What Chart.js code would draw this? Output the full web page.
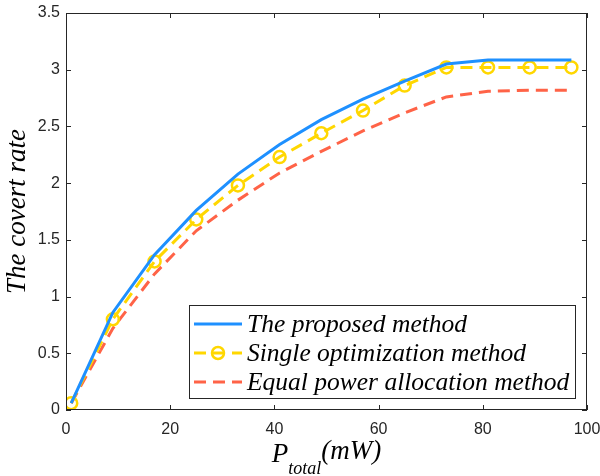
<!DOCTYPE html>
<html lang="en">
<head>
  <meta charset="UTF-8" />
  <title>Covert rate vs total power</title>
  <style>
    html, body { margin: 0; padding: 0; background: #fff; }
    #wrap { width: 600px; height: 476px; }
  </style>
  <script src="https://cdn.jsdelivr.net/npm/chart.js"></script>
</head>
<body>
<div id="wrap"><canvas id="rateChart" width="600" height="476"></canvas></div>

<script>
  // total power (mW) and covert rate for each scheme
  const powerMW = [1, 9, 17, 25, 33, 41, 49, 57, 65, 73, 81, 89, 97];
  const proposed = [0.06, 0.86, 1.37, 1.76, 2.08, 2.34, 2.56, 2.74, 2.90, 3.05, 3.085, 3.085, 3.085];
  const single = [0.06, 0.80, 1.31, 1.68, 1.98, 2.23, 2.44, 2.64, 2.86, 3.02, 3.02, 3.02, 3.02];
  const equalPower = [0.06, 0.72, 1.20, 1.58, 1.85, 2.09, 2.28, 2.46, 2.62, 2.76, 2.81, 2.82, 2.82];
  const seriesNames = ['The proposed method', 'Single optimization method', 'Equal power allocation method'];
  const xTicks = [0, 20, 40, 60, 80, 100];
  const yTicks = [0, 0.5, 1, 1.5, 2, 2.5, 3, 3.5];

  const AXIS_COLOR = '#262626';
  const SERIF = '"Liberation Serif", "Times New Roman", serif';

  const toPoints = ys => powerMW.map((x, i) => ({ x: x, y: ys[i] }));

  // box around the plot, inward ticks, axis titles and the legend
  const matlabAxes = {
    id: 'matlabAxes',
    afterDatasetsDraw(chart) {
      const { ctx, chartArea: a, scales: { x, y } } = chart;
      ctx.save();
      ctx.strokeStyle = AXIS_COLOR;
      ctx.lineWidth = 1;
      ctx.strokeRect(a.left + 0.5, a.top + 0.5, a.right - a.left - 1, a.bottom - a.top - 1);

      const tl = 5;
      ctx.beginPath();
      xTicks.forEach(v => {
        const px = Math.round(x.getPixelForValue(v)) + 0.5;
        ctx.moveTo(px, a.bottom); ctx.lineTo(px, a.bottom - tl);
        ctx.moveTo(px, a.top); ctx.lineTo(px, a.top + tl);
      });
      yTicks.forEach(v => {
        const py = Math.round(y.getPixelForValue(v)) + 0.5;
        ctx.moveTo(a.left, py); ctx.lineTo(a.left + tl, py);
        ctx.moveTo(a.right, py); ctx.lineTo(a.right - tl, py);
      });
      ctx.stroke();

      // y title
      ctx.fillStyle = '#000';
      ctx.font = 'italic 27px ' + SERIF;
      ctx.textAlign = 'center';
      ctx.textBaseline = 'middle';
      ctx.translate(18, (a.top + a.bottom) / 2);
      ctx.rotate(-Math.PI / 2);
      ctx.fillText('The covert rate', 0, 0);
      ctx.setTransform(1, 0, 0, 1, 0, 0);

      // x title: P_total(mW)
      ctx.textAlign = 'left';
      ctx.textBaseline = 'alphabetic';
      const big = 'italic 27px ' + SERIF;
      const small = 'italic 18px ' + SERIF;
      ctx.font = big; const wP = ctx.measureText('P').width;
      const wU = ctx.measureText('(mW)').width;
      ctx.font = small; const wS = ctx.measureText('total').width;
      let cx = (a.left + a.right) / 2 - (wP + wS + wU) / 2;
      ctx.font = big; ctx.fillText('P', cx, 462); cx += wP;
      ctx.font = small; ctx.fillText('total', cx, 474); cx += wS;
      ctx.font = big; ctx.fillText('(mW)', cx, 459);

      // legend
      const lx = 189, ly = 305, lw = 386, lh = 93;
      ctx.fillStyle = '#fff';
      ctx.fillRect(lx, ly, lw, lh);
      ctx.strokeStyle = AXIS_COLOR;
      ctx.strokeRect(lx + 0.5, ly + 0.5, lw, lh);
      const rows = [324, 353, 382];
      chart.data.datasets.forEach((ds, i) => {
        const ry = rows[i];
        ctx.strokeStyle = ds.borderColor;
        ctx.lineWidth = ds.borderWidth;
        ctx.setLineDash(ds.borderDash || []);
        ctx.beginPath();
        ctx.moveTo(194, ry); ctx.lineTo(242, ry);
        ctx.stroke();
        ctx.setLineDash([]);
        if (ds.pointRadius > 0) {
          ctx.lineWidth = ds.pointBorderWidth;
          ctx.beginPath();
          ctx.arc(218, ry, ds.pointRadius, 0, Math.PI * 2);
          ctx.stroke();
        }
        ctx.fillStyle = '#000';
        ctx.font = 'italic 25.5px ' + SERIF;
        ctx.textBaseline = 'middle';
        ctx.fillText(ds.label, 247, ry + 1);
      });
      ctx.restore();
    }
  };

  new Chart(document.getElementById('rateChart'), {
    type: 'scatter',
    data: {
      datasets: [
        {
          label: seriesNames[0],
          data: toPoints(proposed),
          showLine: true,
          borderColor: '#1E90FF',
          borderWidth: 3,
          pointRadius: 0,
          tension: 0
        },
        {
          label: seriesNames[1],
          data: toPoints(single),
          showLine: true,
          borderColor: '#FFD700',
          borderWidth: 3,
          borderDash: [12, 7],
          pointRadius: 6,
          pointBorderWidth: 2.5,
          pointBorderColor: '#FFD700',
          pointBackgroundColor: 'rgba(0,0,0,0)',
          tension: 0
        },
        {
          label: seriesNames[2],
          data: toPoints(equalPower),
          showLine: true,
          borderColor: '#FF6347',
          borderWidth: 3,
          borderDash: [12, 7],
          pointRadius: 0,
          tension: 0
        }
      ]
    },
    options: {
      responsive: false,
      animation: false,
      layout: { padding: { top: 13, right: 13, left: 0, bottom: 0 } },
      plugins: { legend: { display: false }, tooltip: { enabled: false } },
      scales: {
        x: {
          type: 'linear',
          min: 0, max: 100,
          afterBuildTicks: s => { s.ticks = xTicks.map(v => ({ value: v })); },
          afterFit: s => { s.height = 66; s.paddingLeft = 0; s.paddingRight = 0; },
          grid: { display: false, drawTicks: false },
          border: { display: false },
          ticks: { color: AXIS_COLOR, font: { family: '"Liberation Sans", Arial', size: 16 }, padding: 10, maxRotation: 0 }
        },
        y: {
          type: 'linear',
          min: 0, max: 3.5,
          afterBuildTicks: s => { s.ticks = yTicks.map(v => ({ value: v })); },
          afterFit: s => { s.width = 66; s.paddingTop = 0; s.paddingBottom = 0; },
          grid: { display: false, drawTicks: false },
          border: { display: false },
          ticks: { color: AXIS_COLOR, font: { family: '"Liberation Sans", Arial', size: 16 }, padding: 6, callback: v => String(v) }
        }
      }
    },
    plugins: [matlabAxes]
  });
</script>
</body>
</html>
